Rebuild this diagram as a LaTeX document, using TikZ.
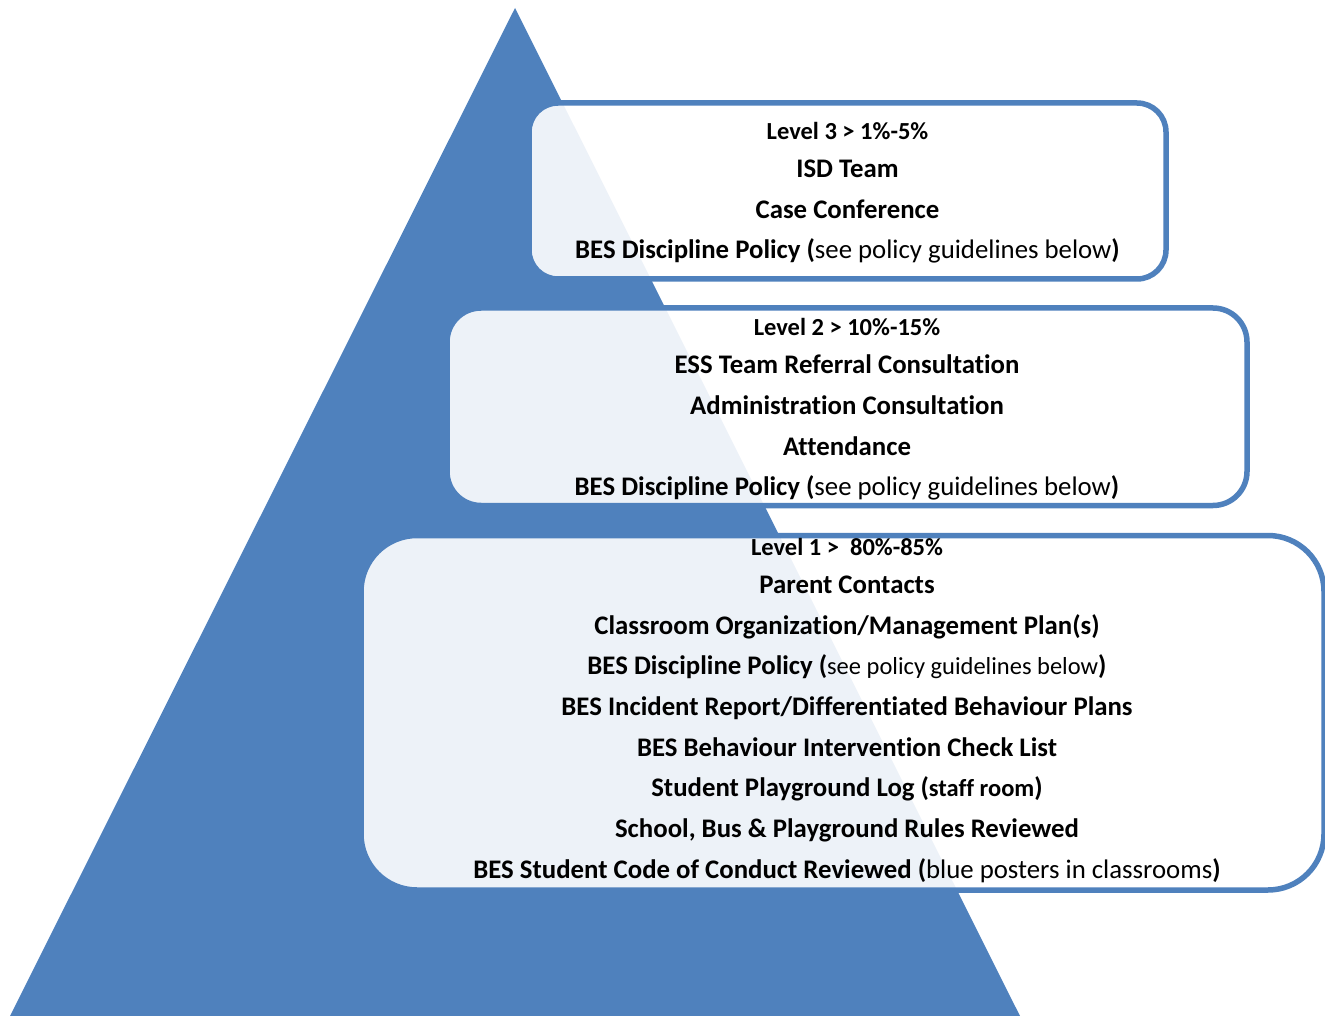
\documentclass[tikz,border=0pt]{standalone}
\usepackage{fontspec}
\setmainfont{Carlito}[Ligatures={TeX,NoCommon}]
\usetikzlibrary{positioning}
\definecolor{pyrblue}{RGB}{79,129,189}
\newcommand{\lvlfont}{\fontsize{24.5}{38}\selectfont}
\tikzset{
  lvlbox/.style={draw=pyrblue, line width=5.5pt, fill=white, fill opacity=0.9},
  lvltext/.style={align=center, inner sep=0pt,
    font=\bfseries\fontsize{26.8}{40.7}\selectfont}
}

\begin{document}
\begin{tikzpicture}[x=1pt,y=-1pt]
\useasboundingbox (0,0) rectangle (1325,1016);
% pyramid
\fill[pyrblue] (515,8) -- (1020,1016) -- (10,1016) -- cycle;
% boxes
\node[lvlbox, rounded corners=29pt, minimum width=637pt, minimum height=176pt] (lvl3) at (847.5,191) {};
\node[lvlbox, rounded corners=34pt, minimum width=800pt, minimum height=197.5pt] (lvl2) at (847,406.75) {};
\node[lvlbox, rounded corners=56pt, minimum width=963pt, minimum height=354.5pt] (lvl1) at (842.5,712.75) {};
% level 3
\node[lvltext, yshift=-2pt] (txt3) at (lvl3) {{\lvlfont Level 3 > 1\%-5\%}\\[-2.7pt]
   ISD Team\\
   Case Conference\\
   BES Discipline Policy ({\mdseries see policy guidelines below})};
% level 2
\node[lvltext, yshift=-2.75pt] (txt2) at (lvl2) {{\lvlfont Level 2 > 10\%-15\%}\\[-2.7pt]
   ESS Team Referral Consultation\\
   Administration Consultation\\
   Attendance\\
   BES Discipline Policy ({\mdseries see policy guidelines below})};
% level 1
\node[lvltext, xshift=4.5pt, yshift=2.25pt] (txt1) at (lvl1) {{\lvlfont Level 1 >~ 80\%-85\%}\\[-2.7pt]
   Parent Contacts\\
   Classroom Organization/Management Plan(s)\\
   BES Discipline Policy ({\mdseries\lvlfont see policy guidelines below})\\
   BES Incident Report/Differentiated Behaviour Plans\\
   BES Behaviour Intervention Check List\\
   Student Playground Log ({\lvlfont staff room})\\
   School, Bus \& Playground Rules Reviewed\\
   BES Student Code of Conduct Reviewed ({\mdseries blue posters in classrooms})};
\end{tikzpicture}
\end{document}
